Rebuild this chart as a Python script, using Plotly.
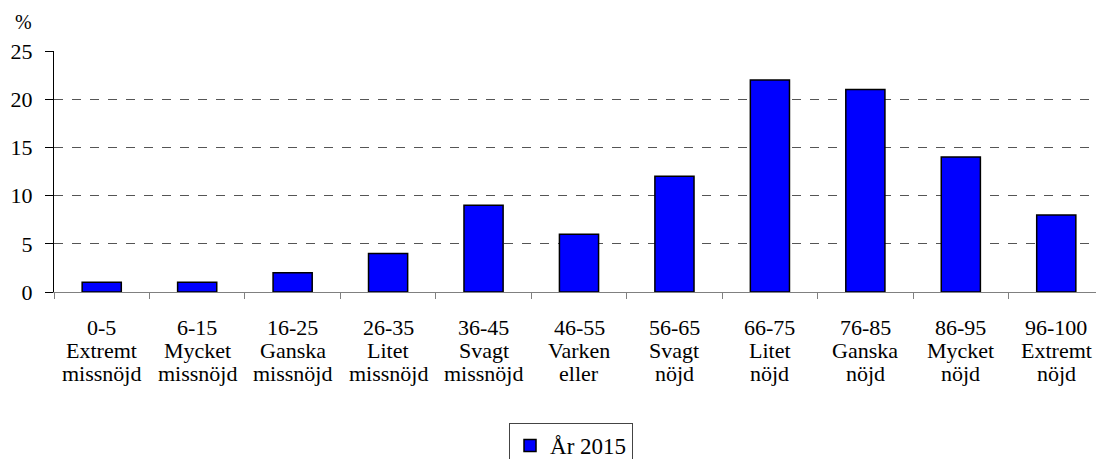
import plotly.graph_objects as go

# Categories (three label lines each) and values
ranges = ["0-5", "6-15", "16-25", "26-35", "36-45", "46-55",
          "56-65", "66-75", "76-85", "86-95", "96-100"]
line2 = ["Extremt", "Mycket", "Ganska", "Litet", "Svagt", "Varken",
         "Svagt", "Litet", "Ganska", "Mycket", "Extremt"]
line3 = ["missnöjd", "missnöjd", "missnöjd", "missnöjd", "missnöjd", "eller",
         "nöjd", "nöjd", "nöjd", "nöjd", "nöjd"]
values_2015 = [1, 1, 2, 4, 9, 6, 12, 22, 21, 14, 8]
y_ticks = [0, 5, 10, 15, 20, 25]

font_family = "Liberation Serif, Times New Roman, serif"

fig = go.Figure()
fig.add_trace(go.Bar(
    x=ranges,
    y=values_2015,
    name="År 2015",
    marker=dict(color="#0000FF", line=dict(color="black", width=1.5)),
))

# Category labels: one annotation per line, tighter line spacing than <br>
annotations = []
for lines, shift in ((ranges, -21), (line2, -44), (line3, -67)):
    for cat, txt in zip(ranges, lines):
        annotations.append(dict(
            x=cat, y=0, xref="x", yref="y", text=txt,
            showarrow=False, yanchor="top", yshift=shift,
            font=dict(size=22),
        ))
# "%" unit label above the y axis
annotations.append(dict(
    text="%", x=-0.0295, y=1.12, xref="paper", yref="paper",
    xanchor="center", yanchor="middle", showarrow=False,
    font=dict(size=20),
))

# the page body has an 8px default margin, so the figure is a bit smaller
fig.update_layout(
    width=1096, height=451,
    margin=dict(l=46, r=0, t=43, b=167, autoexpand=False),
    paper_bgcolor="white", plot_bgcolor="white",
    font=dict(family=font_family, size=21, color="black"),
    bargap=0.59,
    showlegend=True,
    legend=dict(
        xref="container", yref="container",
        x=0.5137, y=0.0798, xanchor="center", yanchor="top",
        bordercolor="#444444", borderwidth=1,
        font=dict(size=23),
        itemwidth=30,
    ),
    annotations=annotations,
)

fig.update_xaxes(
    showline=True, linecolor="gray", linewidth=1,
    ticks="outside", tickson="boundaries", ticklen=6, tickcolor="gray",
    showticklabels=False, showgrid=False,
)
fig.update_yaxes(
    range=[0, 25], tickvals=y_ticks,
    showline=True, linecolor="black", linewidth=1,
    ticks="outside", ticklen=8, tickcolor="black",
    ticklabelstandoff=8,
    showgrid=True, gridcolor="#555555", griddash="dash", gridwidth=1,
    tickfont=dict(size=22),
    zeroline=False,
)

fig.write_html("out.html")
